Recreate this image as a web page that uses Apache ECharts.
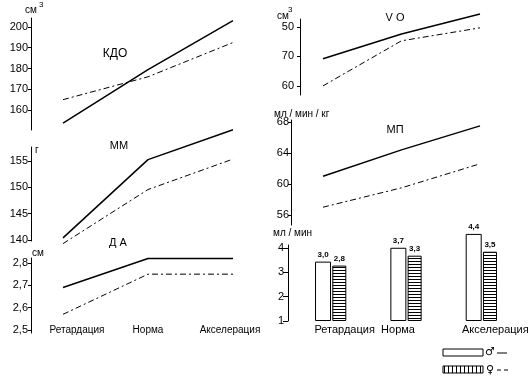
<!DOCTYPE html>
<html><head><meta charset="utf-8">
<script src="https://cdn.jsdelivr.net/npm/echarts@6/dist/echarts.min.js"></script>
<style>html,body{margin:0;padding:0;background:#fff}#c{width:532px;height:381px}</style>
</head><body><div id="c"></div>
<script>
const categories = ['Ретардация', 'Норма', 'Акселерация'];
const kdoMale = [153.7, 179.5, 203];
const kdoFemale = [165, 176, 192.5];
const mmMale = [140.4, 155.3, 161];
const mmFemale = [139.3, 149.6, 155.4];
const daMale = [2.69, 2.82, 2.82];
const daFemale = [2.57, 2.75, 2.75];
const voMale = [69.2, 77.6, 84.4];
const voFemale = [60.0, 75.3, 79.7];
const mpMale = [61.0, 64.4, 67.5];
const mpFemale = [57.0, 59.5, 62.6];
const barMale = [3.0, 3.7, 4.4];
const barFemale = [2.8, 3.3, 3.5];
const kdoTicks = [160, 170, 180, 190, 200];
const mmTicks = [140, 145, 150, 155];
const daTicks = [2.5, 2.6, 2.7, 2.8];
const voTicks = [60, 70, 80];
const voTickLabels = ['60', '70', '50'];
const mpTicks = [56, 60, 64, 68];
const barTicks = [1, 2, 3, 4];

function stripes(horizontal, period) {
  const c = document.createElement('canvas');
  c.width = period; c.height = period;
  const g = c.getContext('2d');
  g.fillStyle = '#fff'; g.fillRect(0, 0, period, period);
  g.fillStyle = '#000';
  if (horizontal) g.fillRect(0, 0, period, 1); else g.fillRect(0, 0, 1, period);
  return { image: c, repeat: 'repeat' };
}

const FONT = 'Liberation Sans, Arial, sans-serif';
const comma = v => String(v).replace('.', ',');

const grids = [
  { left: 63, right: 299, top: 18, height: 112 },
  { left: 63, right: 299, top: 147, height: 94 },
  { left: 63, right: 299, top: 258, height: 75 },
  { left: 323, right: 52, top: 19, height: 76 },
  { left: 323, right: 52, top: 120, height: 105 },
  { left: 293, right: 13, top: 245, height: 76 }
];

function yAx(gi, min, max, ticks, offset, fmt, margin, tickLen) {
  return {
    type: 'value', gridIndex: gi, min: min, max: max, offset: offset,
    splitLine: { show: false },
    axisLine: { show: true, lineStyle: { color: '#000', width: 1 } },
    axisTick: { show: true, length: tickLen || 3, customValues: ticks, lineStyle: { color: '#000' } },
    axisLabel: { customValues: ticks, formatter: fmt, color: '#000', fontSize: 11, fontFamily: FONT, margin: margin || 3 }
  };
}

// label nudges via rich padding: [left, right]
function xAx(gi, showLabels, boundaryGap, margin, size, pads) {
  const rich = {};
  (pads || []).forEach((p, i) => {
    rich['p' + i] = { fontSize: size, fontFamily: FONT, color: '#000', padding: [0, p[1], 0, p[0]] };
  });
  return {
    type: 'category', gridIndex: gi, data: categories, boundaryGap: boundaryGap,
    axisLine: { show: false }, axisTick: { show: false },
    axisLabel: {
      show: showLabels, color: '#000', fontSize: size || 11, fontFamily: FONT, margin: margin, interval: 0,
      formatter: pads ? ((v, i) => '{p' + i + '|' + v + '}') : null, rich: rich
    }
  };
}

function lineS(idx, data, female) {
  return {
    type: 'line', xAxisIndex: idx, yAxisIndex: idx, data: data, symbol: 'none', clip: false,
    silent: true,
    lineStyle: female ? { color: '#000', width: 1, type: [6, 3, 2, 3] } : { color: '#000', width: 1.5 }
  };
}

function txt(x, y, s, size, align, extra) {
  return Object.assign({
    type: 'text', x: x, y: y,
    style: { text: s, fill: '#000', font: (size || 11) + 'px ' + FONT, align: align || 'left', verticalAlign: 'middle' }
  }, extra || {});
}

const barLabel = {
  show: true, position: 'top', distance: 3, formatter: p => p.value.toFixed(1).replace('.', ','),
  fontSize: 8, fontWeight: 'bold', color: '#000', fontFamily: FONT
};

const option = {
  animation: false,
  backgroundColor: '#fff',
  grid: grids,
  xAxis: [
    xAx(0, false, false, 0), xAx(1, false, false, 0),
    xAx(2, true, false, -8, 10, [[28, 0], [0, 0], [0, 6]]),
    xAx(3, false, false, 0), xAx(4, false, false, 0),
    xAx(5, true, true, 3, 11, [[28, 0], [0, 16], [28, 0]])
  ],
  yAxis: [
    yAx(0, 150.4, 204.3, kdoTicks, 32),
    yAx(1, 139.8, 157.7, mmTicks, 32),
    yAx(2, 2.4865, 2.8224, daTicks, 32, v => comma(v)),
    yAx(3, 56.9, 82.7, voTicks, 23, v => voTickLabels[voTicks.indexOf(v)], 6),
    yAx(4, 54.7, 68.26, mpTicks, 32, null, 2),
    yAx(5, 1, 4.12, barTicks, 5, null, 4, 5),
    { type: 'value', gridIndex: 5, min: 0, max: 3.84, show: false }
  ],
  series: [
    lineS(0, kdoMale, false), lineS(0, kdoFemale, true),
    lineS(1, mmMale, false), lineS(1, mmFemale, true),
    lineS(2, daMale, false), lineS(2, daFemale, true),
    lineS(3, voMale, false), lineS(3, voFemale, true),
    lineS(4, mpMale, false), lineS(4, mpFemale, true),
    {
      type: 'bar', xAxisIndex: 5, yAxisIndex: 6, data: barMale, barWidth: 16, barGap: '8%', clip: false,
      itemStyle: { color: '#fff', borderColor: '#000', borderWidth: 1 },
      label: barLabel
    },
    {
      type: 'bar', xAxisIndex: 5, yAxisIndex: 6, data: barFemale, barWidth: 14, clip: false,
      itemStyle: { color: stripes(true, 3), borderColor: '#000', borderWidth: 1 },
      label: barLabel
    }
  ],
  graphic: [
    txt(25, 10, 'см', 10), txt(39, 5, '3', 8),
    txt(115, 54, 'КДО', 12, 'center'),
    txt(119, 146, 'ММ', 11, 'center'),
    txt(35, 150, 'г', 10),
    txt(118, 243, 'Д А', 11, 'center'),
    txt(32, 253, 'см', 10),
    txt(277, 16, 'см', 10), txt(288, 10, '3', 8),
    txt(395, 18, 'V O', 11, 'center'),
    txt(395, 130, 'МП', 11, 'center'),
    txt(274, 114, 'мл / мин / кг', 10),
    txt(273, 233, 'мл / мин', 10),
    { type: 'rect', shape: { x: 443, y: 349, width: 40, height: 7 }, style: { fill: '#fff', stroke: '#000', lineWidth: 1 } },
    { type: 'rect', shape: { x: 443, y: 366, width: 40, height: 7 }, style: { fill: stripes(false, 4), stroke: '#000', lineWidth: 1 } },
    { type: 'text', x: 490, y: 352, style: { text: '♂', fill: '#000', font: 'bold 11px DejaVu Sans', align: 'center', verticalAlign: 'middle' } },
    { type: 'text', x: 490, y: 370, style: { text: '♀', fill: '#000', font: 'bold 11px DejaVu Sans', align: 'center', verticalAlign: 'middle' } },
    { type: 'line', shape: { x1: 497, y1: 353, x2: 507, y2: 353 }, style: { stroke: '#000', lineWidth: 1 } },
    { type: 'line', shape: { x1: 497, y1: 370, x2: 509, y2: 370 }, style: { stroke: '#000', lineWidth: 1, lineDash: [4, 3] } }
  ]
};

echarts.init(document.getElementById('c'), null, { renderer: 'canvas' }).setOption(option);
</script>
</body></html>
